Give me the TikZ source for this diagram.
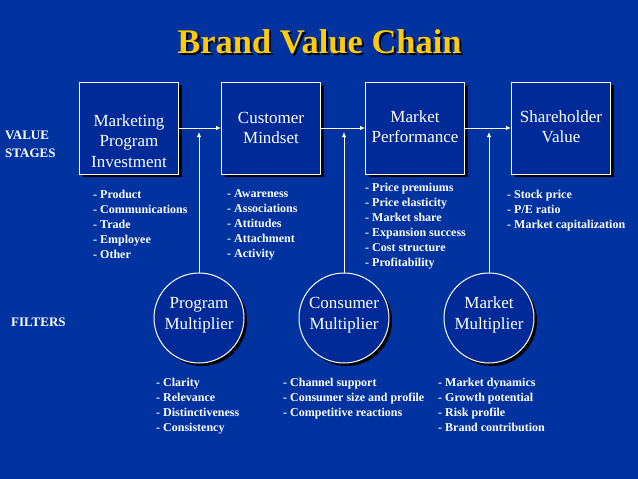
\documentclass[tikz,border=0pt]{standalone}
\usepackage{fontspec}
\setmainfont{Liberation Serif}
\usetikzlibrary{shadows,arrows.meta}
\definecolor{bgblue}{RGB}{0,51,160}
\definecolor{boxblue}{RGB}{0,42,152}
\definecolor{titleyellow}{RGB}{255,204,0}
\tikzset{
  stagebox/.style={draw=white, line width=1pt, fill=boxblue, minimum width=99pt, minimum height=92pt, inner sep=0pt,
    drop shadow={shadow xshift=3pt, shadow yshift=-3pt, fill=black, opacity=1}},
  filtercircle/.style={circle, draw=white, line width=1pt, fill=boxblue, minimum size=90pt, inner sep=0pt,
    drop shadow={shadow xshift=3pt, shadow yshift=-3pt, fill=black, opacity=1}},
  bigtext/.style={text=white, align=center, inner sep=0pt, font=\fontsize{17}{20.5}\selectfont},
  listtext/.style={text=white, align=left, anchor=north west, inner sep=0pt, font=\fontsize{12}{15}\selectfont\bfseries},
  sidetext/.style={text=white, align=left, anchor=north west, inner sep=0pt, font=\fontsize{13}{18}\selectfont\bfseries},
  flow/.style={draw=white, line width=0.9pt, -{Latex[length=5pt,width=4.5pt]}},
}
\newcommand{\shadowtitle}[1]{\makebox[0pt][l]{\hspace{2pt}\raisebox{-2pt}{\color{black}#1}}\color{titleyellow}#1}
\begin{document}
\begin{tikzpicture}[x=1pt,y=-1pt]
\fill[bgblue] (0,0) rectangle (638,479);
\useasboundingbox (0,0) rectangle (638,479);
% title
\node[font=\fontsize{34.5}{36}\selectfont\bfseries, inner sep=0pt] (title) at (319.5,43) {\shadowtitle{Brand Value Chain}};
% side labels
\node[sidetext] (vs) at (5,131) {VALUE\\STAGES};
\node[sidetext] (filt) at (11,318) {FILTERS};
% stage boxes
\node[stagebox] (mpi) at (129,128) {};
\node[stagebox] (cm) at (271,128) {};
\node[stagebox] (mp) at (415,128) {};
\node[stagebox] (sv) at (561,128) {};
\node[bigtext] (mpit) at (129,141) {Marketing\\Program\\Investment};
\node[bigtext] (cmt) at (271,128) {Customer\\Mindset};
\node[bigtext] (mpt) at (415,126.5) {Market\\Performance};
\node[bigtext] (svt) at (561,126.5) {Shareholder\\Value};
% filter circles
\node[filtercircle] (pm) at (199,318) {};
\node[filtercircle] (cmul) at (344,318) {};
\node[filtercircle] (mm) at (489,318) {};
\node[bigtext] (pmt) at (199,315) {Program\\Multiplier};
\node[bigtext] (cmult) at (344,315) {Consumer\\Multiplier};
\node[bigtext] (mmt) at (489,315) {Market\\Multiplier};
% connectors
\draw[flow] (mpi.east) -- (cm.west);
\draw[flow] (cm.east) -- (mp.west);
\draw[flow] (mp.east) -- (sv.west);
\coordinate (j1) at (199,132);
\coordinate (j2) at (344,132);
\coordinate (j3) at (489,132);
\draw[flow] (pm.north) -- (j1);
\draw[flow] (cmul.north) -- (j2);
\draw[flow] (mm.north) -- (j3);
% lists under stages
\node[listtext] (l1) at (93,189.5) {- Product\\- Communications\\- Trade\\- Employee\\- Other};
\node[listtext] (l2) at (227,189.5) {- Awareness\\- Associations\\- Attitudes\\- Attachment\\- Activity};
\node[listtext] (l3) at (365,182.5) {- Price premiums\\- Price elasticity\\- Market share\\- Expansion success\\- Cost structure\\- Profitability};
\node[listtext] (l4) at (507,189.5) {- Stock price\\- P/E ratio\\- Market capitalization};
% lists under filters
\node[listtext] (f1) at (156,377.5) {- Clarity\\- Relevance\\- Distinctiveness\\- Consistency};
\node[listtext] (f2) at (283,377.5) {- Channel support\\- Consumer size and profile\\- Competitive reactions};
\node[listtext] (f3) at (438,377.5) {- Market dynamics\\- Growth potential\\- Risk profile\\- Brand contribution};
\end{tikzpicture}
\end{document}
